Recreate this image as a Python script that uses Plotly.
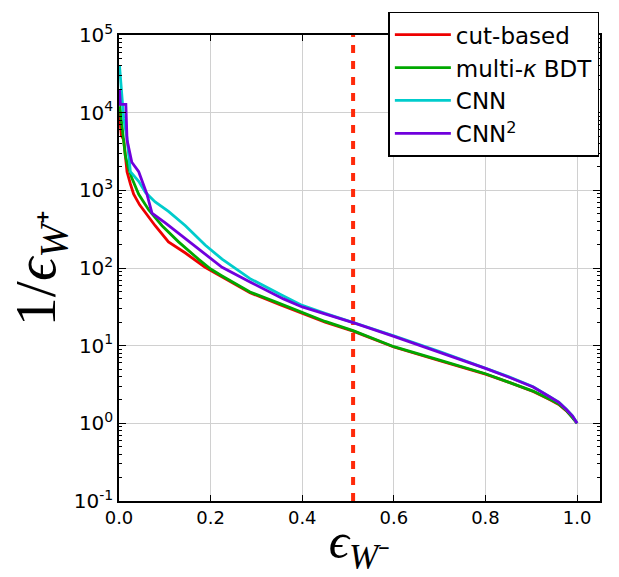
import plotly.graph_objects as go

# ---------------- data ----------------
cut_eps = [0.001, 0.003, 0.005, 0.0103, 0.0175, 0.025, 0.032, 0.045, 0.058, 0.079, 0.108,
           0.145, 0.188, 0.225, 0.286, 0.35, 0.4, 0.45, 0.511, 0.6, 0.7, 0.8, 0.85, 0.904,
           0.94, 0.96, 0.976, 0.99, 1.0]
cut_rej = [10000, 7000, 5100, 4460, 1740, 1200, 890, 650, 508, 350, 217,
           156, 102, 77, 48, 34, 26, 20, 15.4, 9.6, 6.4, 4.3, 3.4, 2.57,
           2.03, 1.75, 1.46, 1.2, 1.0]

bdt_eps = [0.001, 0.002, 0.0065, 0.0138, 0.02, 0.028, 0.043, 0.065, 0.094, 0.130, 0.174,
           0.2, 0.225, 0.286, 0.35, 0.4, 0.45, 0.511, 0.6, 0.7, 0.8, 0.85, 0.904, 0.94,
           0.96, 0.976, 0.99, 1.0]
bdt_rej = [12000, 12000, 6800, 2780, 2000, 1440, 890, 560, 350, 217, 129,
           97, 79, 49, 35, 26.5, 20.5, 15.6, 9.7, 6.5, 4.35, 3.4, 2.6, 2.05,
           1.77, 1.48, 1.2, 1.0]

cnn_eps = [0.001, 0.004, 0.0065, 0.0103, 0.0175, 0.0248, 0.043, 0.058, 0.079, 0.108, 0.145,
           0.188, 0.225, 0.286, 0.359, 0.4, 0.45, 0.511, 0.6, 0.7, 0.8, 0.85, 0.904, 0.94,
           0.96, 0.976, 0.99, 1.0]
cnn_rej = [41000, 25000, 13000, 8300, 4700, 1740, 1310, 935, 710, 535, 350,
           198, 130, 73, 43.6, 33, 26, 20, 13.4, 8.4, 5.2, 4.0, 2.96, 2.23,
           1.88, 1.53, 1.25, 1.0]

cnn2_eps = [0.001, 0.003, 0.015, 0.016, 0.0175, 0.028, 0.043, 0.061, 0.072, 0.101, 0.145,
            0.188, 0.225, 0.286, 0.359, 0.4, 0.45, 0.511, 0.6, 0.7, 0.8, 0.85, 0.904, 0.94,
            0.96, 0.976, 0.99, 1.0]
cnn2_rej = [20000, 12800, 12800, 7000, 4460, 2300, 1740, 890, 508, 380, 240,
            149, 102, 66, 40, 31.5, 25.5, 19.8, 13.2, 8.3, 5.1, 3.95, 2.93, 2.2,
            1.86, 1.52, 1.24, 1.0]

working_point = 0.511

series_names = ["cut-based", "multi-<i>κ</i> BDT", "CNN", "CNN<sup>2</sup>"]
series_x = [cut_eps, bdt_eps, cnn_eps, cnn2_eps]
series_y = [cut_rej, bdt_rej, cnn_rej, cnn2_rej]
series_colors = ["#ee0000", "#00a800", "#00cccc", "#7000dd"]

x_ticks = [0.0, 0.2, 0.4, 0.6, 0.8, 1.0]
x_ticklabels = ["0.0", "0.2", "0.4", "0.6", "0.8", "1.0"]

y_ticks = [0.1, 1, 10, 100, 1000, 10000, 100000]
y_ticklabels = ["10<sup>-1</sup>", "10<sup>0</sup>", "10<sup>1</sup>", "10<sup>2</sup>",
                "10<sup>3</sup>", "10<sup>4</sup>", "10<sup>5</sup>"]
y_minor_ticks = [m * 10.0 ** d for d in range(-1, 5) for m in range(2, 10)]

# ---------------- figure ----------------
fig = go.Figure()

fig.add_trace(go.Scatter(
    x=[working_point, working_point], y=[0.1, 1e5], mode="lines",
    line=dict(color="#ff2a0a", width=4, dash="8px,8px"),
    showlegend=False, hoverinfo="skip"))

for name, xs, ys, c in zip(series_names, series_x, series_y, series_colors):
    fig.add_trace(go.Scatter(x=xs, y=ys, mode="lines", name=name,
                             line=dict(color=c, width=2.8)))

axis_common = dict(
    showline=True, linecolor="black", linewidth=1.5, mirror="ticks",
    ticks="inside", tickcolor="black", tickwidth=1.2,
    showgrid=True, gridcolor="#d0d0d0", gridwidth=1, zeroline=False,
)

fig.update_xaxes(
    range=[0, 1.05], tickvals=x_ticks, ticktext=x_ticklabels, ticklen=6,
    tickfont=dict(family="DejaVu Sans", size=18, color="black"),
    title=dict(text="<i>ϵ</i><sub><i>W</i>⁻</sub>",
               font=dict(family="Liberation Serif", size=50, color="black"),
               standoff=2),
    **axis_common)

fig.update_yaxes(
    type="log", range=[-1, 5], tickvals=y_ticks, ticktext=y_ticklabels, ticklen=7,
    tickfont=dict(family="DejaVu Sans", size=20, color="black"),
    minor=dict(tickvals=y_minor_ticks, ticks="inside", ticklen=3.5,
               tickcolor="black", tickwidth=1, showgrid=False),
    title=dict(text="1/<i>ϵ</i><sub><i>W</i>⁺</sub>",
               font=dict(family="Liberation Serif", size=58, color="black"),
               standoff=0),
    **axis_common)

fig.update_layout(
    width=619, height=577,
    margin=dict(l=119, r=19, t=20, b=69),
    paper_bgcolor="white", plot_bgcolor="white",
    legend=dict(x=0.56, y=1.05, xanchor="left", yanchor="top",
                bgcolor="white", bordercolor="black", borderwidth=1.5,
                font=dict(family="DejaVu Sans", size=23, color="black"),
                tracegroupgap=0, itemwidth=56),
    showlegend=True,
)

fig.write_html("out.html")
